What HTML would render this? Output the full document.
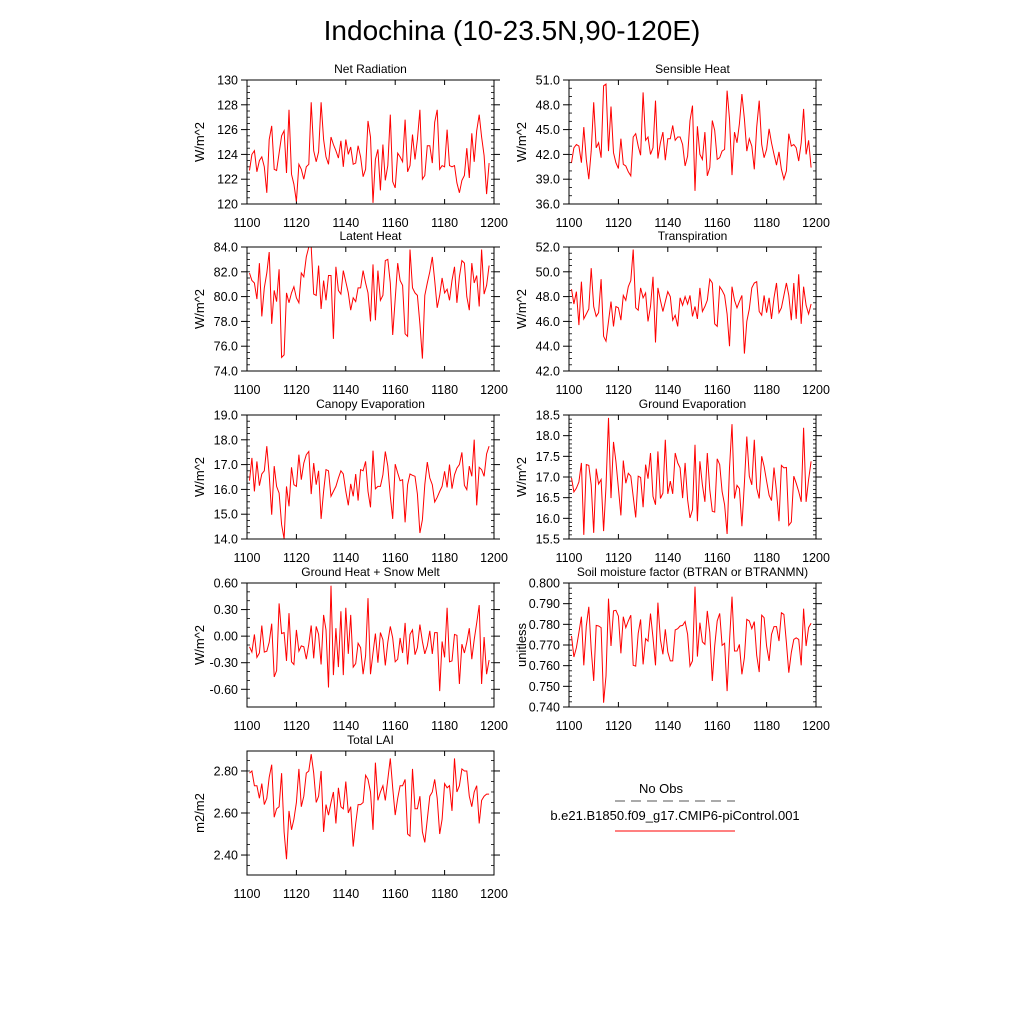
<!DOCTYPE html>
<html><head><meta charset="utf-8"><style>
body{margin:0;background:#fff;}
svg{display:block;font-family:"Liberation Sans",sans-serif;}
</style></head><body>
<svg id="chart" width="1024" height="1024" viewBox="0 0 1024 1024" xmlns="http://www.w3.org/2000/svg">
<rect width="1024" height="1024" fill="#fff"/>
<text x="512" y="40" font-size="28" text-anchor="middle">Indochina (10-23.5N,90-120E)</text>
<g>
<text x="661" y="793" font-size="13" text-anchor="middle">No Obs</text>
<line x1="615" y1="801" x2="735" y2="801" stroke="#555" stroke-width="1" stroke-dasharray="10,6"/>
<text x="675" y="820" font-size="13" text-anchor="middle">b.e21.B1850.f09_g17.CMIP6-piControl.001</text>
<line x1="615" y1="831" x2="735" y2="831" stroke="#f00" stroke-width="1"/>
</g>
</svg>
<script>
const years0 = 1101;
const netRad = [122.7,124.0,124.3,122.6,123.5,123.8,123.0,120.9,125.2,126.3,122.8,122.7,124.1,125.5,125.9,122.5,127.6,122.4,121.6,120.2,123.2,122.8,122.0,123.0,123.2,128.2,124.3,123.4,124.2,128.2,125.2,123.8,123.2,125.4,124.8,124.3,123.7,125.1,123.0,125.2,124.0,124.6,123.2,123.3,124.7,123.8,122.2,122.8,126.7,125.4,120.1,123.6,124.4,121.1,124.8,121.9,123.1,127.2,121.8,121.3,124.1,123.8,123.4,126.8,122.6,123.1,125.6,123.6,125.2,127.6,122.0,122.3,124.7,124.7,123.3,126.6,127.6,122.8,123.1,123.0,126.0,123.1,123.0,123.1,121.7,120.9,121.9,122.3,124.5,122.1,125.7,123.4,125.9,127.2,125.4,123.9,120.8,123.3];
const sensHeat = [41.0,42.8,43.2,43.0,41.0,45.3,41.4,39.0,42.4,48.3,42.8,43.4,41.6,50.3,50.5,42.4,47.8,42.2,41.0,40.3,43.9,40.8,40.6,39.9,39.4,44.1,44.5,43.0,41.9,49.5,43.7,44.1,42.0,42.8,48.5,41.5,43.4,44.7,41.3,43.9,43.9,45.5,43.7,44.1,44.1,43.2,40.6,41.8,46.1,47.9,37.6,45.4,42.0,41.4,44.7,39.4,40.4,46.1,44.9,41.4,41.6,42.4,42.6,49.7,46.3,39.5,44.7,43.4,45.7,49.3,46.3,42.4,43.9,43.0,40.2,45.3,48.5,43.2,41.6,42.6,45.1,43.4,42.0,40.7,42.3,40.2,39.0,40.0,44.5,43.0,43.2,42.8,41.2,43.4,47.5,42.0,43.7,40.4];
const latHeat = [81.9,81.3,81.1,79.8,82.7,78.4,80.7,81.9,83.6,77.8,80.5,79.6,82.2,75.1,75.3,80.3,79.5,80.3,80.8,79.9,79.5,81.9,81.6,83.2,84.0,84.0,80.2,80.1,82.5,79.0,81.3,79.7,81.7,81.7,76.6,82.4,80.5,80.2,82.1,81.2,80.3,78.9,79.9,79.6,80.7,80.7,82.1,81.1,80.3,78.0,82.6,78.1,82.1,79.7,80.1,82.9,83.0,81.1,76.9,79.8,82.7,81.3,80.9,77.0,76.8,83.8,80.7,80.3,80.1,77.8,75.0,80.1,81.1,82.0,83.2,81.3,79.1,80.1,81.5,80.3,80.6,79.7,81.3,82.4,79.5,81.6,82.9,82.7,80.0,78.9,82.7,81.1,81.7,79.2,83.8,80.2,80.9,82.5];
const transp = [48.6,47.4,48.4,45.7,49.2,46.2,46.6,47.0,50.3,47.2,46.4,46.7,49.4,44.8,44.4,46.0,47.6,45.6,47.2,47.1,46.1,48.1,47.7,48.8,49.3,51.8,47.1,46.9,48.7,47.9,48.3,46.0,47.2,49.6,44.3,48.7,47.7,46.8,47.6,48.4,48.0,46.1,46.5,45.6,47.9,47.3,48.0,47.4,48.1,46.4,47.2,46.2,48.7,46.8,47.2,47.7,49.4,49.1,45.8,45.6,48.8,48.5,48.1,46.6,44.0,48.8,47.7,47.1,47.6,48.1,43.4,46.0,47.0,48.7,49.1,49.2,46.8,46.5,48.1,46.7,47.9,46.2,47.9,49.1,46.7,47.1,48.1,49.1,48.1,46.1,49.1,46.2,49.8,45.8,48.8,47.3,46.6,47.4];
const canEvap = [16.35,17.27,15.92,17.13,16.15,16.62,16.75,17.74,16.59,14.98,16.94,16.12,15.85,14.58,14.01,16.12,15.32,16.89,16.19,16.12,17.40,16.39,17.06,17.40,17.53,15.81,17.06,16.19,16.75,14.81,15.92,16.80,16.75,15.72,15.92,16.12,16.46,16.75,16.62,15.92,15.36,16.22,15.72,16.62,15.55,16.80,16.75,17.13,15.92,15.28,17.56,16.02,16.12,16.12,16.59,17.53,16.94,15.72,14.81,17.02,16.66,16.35,16.39,14.67,16.19,16.62,16.57,16.53,15.81,14.24,14.78,16.19,17.10,16.46,16.19,15.49,15.68,15.92,16.12,16.73,16.08,17.00,16.03,16.59,16.86,17.00,17.49,16.16,15.99,16.94,16.53,18.01,15.36,16.89,16.80,16.53,17.43,17.74];
const grdEvap = [16.98,16.64,16.73,16.88,17.34,15.60,17.30,17.28,16.81,15.65,17.20,16.83,16.94,15.69,16.77,18.43,16.49,17.85,17.38,16.73,16.07,17.40,16.85,17.09,17.02,16.53,16.02,17.02,16.99,16.27,17.30,16.96,17.58,16.53,16.33,17.62,16.48,16.61,17.90,16.59,16.90,16.59,17.58,17.34,17.22,16.49,17.34,16.45,16.01,16.21,17.78,15.93,17.38,16.81,16.40,17.58,16.69,16.17,16.15,17.44,17.30,16.65,16.33,15.62,17.22,18.28,16.48,16.80,16.72,15.81,16.85,17.98,17.02,16.81,17.90,16.73,16.48,17.50,17.26,16.90,16.56,16.43,17.23,16.65,15.93,17.28,17.22,17.23,15.83,15.91,17.02,16.85,16.65,16.40,18.19,16.40,16.94,17.38];
const grdHeat = [-0.12,-0.18,0.02,-0.24,-0.19,0.12,-0.18,-0.17,-0.07,0.14,-0.46,-0.39,0.37,0.03,0.04,-0.28,0.26,-0.29,-0.32,0.07,-0.17,-0.11,-0.12,-0.26,-0.09,0.12,-0.25,0.11,0.02,-0.32,0.24,0.07,-0.58,0.57,-0.44,0.09,-0.35,0.28,-0.44,0.32,-0.20,0.24,-0.35,-0.31,-0.08,-0.13,-0.43,-0.22,0.43,-0.43,-0.19,0.03,-0.30,0.04,-0.04,-0.33,-0.07,0.11,-0.02,-0.29,-0.26,-0.02,-0.19,0.15,-0.32,0.02,0.07,-0.21,-0.13,0.13,-0.06,-0.20,-0.11,0.06,-0.20,0.04,0.04,-0.62,-0.06,-0.24,0.32,-0.29,-0.28,0.02,0.01,-0.54,-0.09,-0.19,-0.07,0.09,-0.26,-0.04,0.15,0.35,-0.54,-0.01,-0.43,-0.27];
const btran = [0.7744,0.7642,0.7687,0.7760,0.7837,0.7602,0.7792,0.7885,0.7679,0.7526,0.7795,0.7792,0.7784,0.7421,0.7550,0.7924,0.7695,0.7865,0.7868,0.7840,0.7660,0.7837,0.7784,0.7816,0.7844,0.7602,0.7598,0.7756,0.7824,0.7606,0.7731,0.7719,0.7852,0.7735,0.7602,0.7905,0.7727,0.7655,0.7776,0.7666,0.7623,0.7623,0.7773,0.7779,0.7792,0.7795,0.7813,0.7752,0.7598,0.7623,0.7982,0.7644,0.7808,0.7715,0.7703,0.7865,0.7760,0.7526,0.7695,0.7816,0.7853,0.7698,0.7708,0.7477,0.7719,0.7934,0.7671,0.7671,0.7703,0.7558,0.7639,0.7824,0.7816,0.7779,0.7813,0.7650,0.7569,0.7844,0.7832,0.7695,0.7623,0.7752,0.7789,0.7789,0.7719,0.7856,0.7848,0.7711,0.7566,0.7663,0.7727,0.7735,0.7727,0.7602,0.7876,0.7695,0.7784,0.7805];
const lai = [2.79,2.80,2.73,2.73,2.67,2.74,2.64,2.67,2.77,2.83,2.58,2.62,2.63,2.79,2.51,2.38,2.61,2.52,2.57,2.65,2.81,2.63,2.68,2.79,2.80,2.88,2.79,2.65,2.68,2.80,2.51,2.64,2.59,2.65,2.70,2.55,2.72,2.63,2.62,2.75,2.60,2.63,2.44,2.55,2.64,2.64,2.65,2.78,2.76,2.70,2.52,2.84,2.66,2.70,2.73,2.66,2.76,2.86,2.72,2.59,2.67,2.73,2.73,2.76,2.50,2.49,2.81,2.62,2.62,2.68,2.51,2.46,2.57,2.68,2.70,2.76,2.67,2.50,2.57,2.74,2.72,2.73,2.61,2.86,2.70,2.73,2.81,2.80,2.80,2.68,2.63,2.70,2.73,2.55,2.66,2.68,2.69,2.69];
const xTicks = [1100,1120,1140,1160,1180,1200];
const ticks1 = ["120","122","124","126","128","130"];
const ticks2 = ["36.0","39.0","42.0","45.0","48.0","51.0"];
const ticks3 = ["74.0","76.0","78.0","80.0","82.0","84.0"];
const ticks4 = ["42.0","44.0","46.0","48.0","50.0","52.0"];
const ticks5 = ["14.0","15.0","16.0","17.0","18.0","19.0"];
const ticks6 = ["15.5","16.0","16.5","17.0","17.5","18.0","18.5"];
const ticks7 = ["-0.60","-0.30","0.00","0.30","0.60"];
const ticks8 = ["0.740","0.750","0.760","0.770","0.780","0.790","0.800"];
const ticks9 = ["2.40","2.60","2.80"];

const NS="http://www.w3.org/2000/svg";
const svg=document.getElementById('chart');
function mk(tag,attrs,parent){const e=document.createElementNS(NS,tag);for(const k in attrs)e.setAttribute(k,attrs[k]);(parent||svg).appendChild(e);return e;}

const panels=[
 {key:'net-radiation',title:'Net Radiation',unit:'W/m^2',data:netRad,ticks:ticks1,min:120,max:130,minor:0.5,x:247,y:80},
 {key:'sensible-heat',title:'Sensible Heat',unit:'W/m^2',data:sensHeat,ticks:ticks2,min:36,max:51,minor:1,x:569,y:80},
 {key:'latent-heat',title:'Latent Heat',unit:'W/m^2',data:latHeat,ticks:ticks3,min:74,max:84,minor:0.5,x:247,y:247},
 {key:'transpiration',title:'Transpiration',unit:'W/m^2',data:transp,ticks:ticks4,min:42,max:52,minor:0.5,x:569,y:247},
 {key:'canopy-evaporation',title:'Canopy Evaporation',unit:'W/m^2',data:canEvap,ticks:ticks5,min:14,max:19,minor:0.25,x:247,y:415},
 {key:'ground-evaporation',title:'Ground Evaporation',unit:'W/m^2',data:grdEvap,ticks:ticks6,min:15.5,max:18.5,minor:0.1,x:569,y:415},
 {key:'ground-heat',title:'Ground Heat + Snow Melt',unit:'W/m^2',data:grdHeat,ticks:ticks7,min:-0.8,max:0.6,minor:0.1,x:247,y:583},
 {key:'soil-moisture',title:'Soil moisture factor (BTRAN or BTRANMN)',unit:'unitless',data:btran,ticks:ticks8,min:0.74,max:0.8,minor:0.0025,x:569,y:583},
 {key:'total-lai',title:'Total LAI',unit:'m2/m2',data:lai,ticks:ticks9,min:2.305,max:2.895,minor:0.05,x:247,y:751}
];
const W=247,H=124;
panels.forEach(p=>{
 const g=mk('g',{});
 
 
 const xs=v=>p.x+(v-1100)/100*W;
 const ys=v=>p.y+H-(v-p.min)/(p.max-p.min)*H;
 const t=mk('text',{x:p.x+W/2,y:p.y-7,'font-size':12,'text-anchor':'middle'},g);
 t.textContent=p.title;
 
 
 const yt=mk('text',{x:0,y:0,'font-size':13,'text-anchor':'middle',transform:`translate(${p.x-43},${p.y+H/2}) rotate(-90)`},g);
 yt.textContent=p.unit;
 
 
 const start=Math.ceil(p.min/p.minor-1e-6);
 for(let k=start;k*p.minor<=p.max+1e-9;k++){
  const yy=ys(k*p.minor);
  mk('line',{x1:p.x,y1:yy,x2:p.x+3,y2:yy,stroke:'#000','stroke-width':0.8},g);
  mk('line',{x1:p.x+W,y1:yy,x2:p.x+W-3,y2:yy,stroke:'#000','stroke-width':0.8},g);
 }
 p.ticks.forEach(s=>{
  const v=parseFloat(s),yy=ys(v);
  mk('line',{x1:p.x-6,y1:yy,x2:p.x,y2:yy,stroke:'#000','stroke-width':1},g);
  mk('line',{x1:p.x+W,y1:yy,x2:p.x+W+6,y2:yy,stroke:'#000','stroke-width':1},g);
  const lb=mk('text',{x:p.x-9,y:yy+4.5,'font-size':12.5,'text-anchor':'end'},g);
  lb.textContent=s;
  
  
 });
 xTicks.forEach(v=>{
  const xx=xs(v);
  mk('line',{x1:xx,y1:p.y+H,x2:xx,y2:p.y+H-5,stroke:'#000','stroke-width':1},g);
  mk('line',{x1:xx,y1:p.y,x2:xx,y2:p.y+5,stroke:'#000','stroke-width':1},g);
  const lb=mk('text',{x:xx,y:p.y+H+23,'font-size':12.5,'text-anchor':'middle'},g);
  lb.textContent=String(v);
  
  
 });
 const pts=p.data.map((v,i)=>xs(years0+i).toFixed(1)+','+ys(v).toFixed(1)).join(' ');
 const line=mk('polyline',{points:pts,fill:'none',stroke:'#f00','stroke-width':1},g);
 
 
 const fr=mk('rect',{x:p.x,y:p.y,width:W,height:H,fill:'none',stroke:'#000','stroke-width':1},g);
 
 
});
</script>
</body></html>
